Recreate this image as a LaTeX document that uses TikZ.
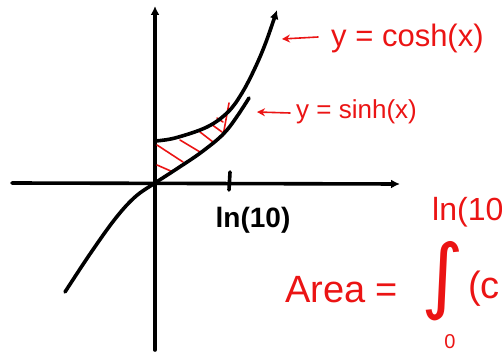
\documentclass[tikz,border=0pt]{standalone}
\usepackage{fontspec}
\setmainfont{Liberation Sans}
\newfontfamily\symfont{DejaVu Sans}
\usetikzlibrary{arrows.meta}
\definecolor{pen}{RGB}{235,20,20}
\tikzset{
  ink/.style={line width=3.6pt, line cap=round, line join=round},
  redink/.style={draw=pen, line width=1.6pt, line cap=round},
  redtxt/.style={text=pen, inner sep=0pt, anchor=base west},
  axisarrow/.style={ink, -{Latex[length=9pt,width=9pt]}},
}
\begin{document}
\begin{tikzpicture}[x=1pt,y=-1pt]
\useasboundingbox (0,0) rectangle (502,352);
\clip (0,0) rectangle (502,352);
% axes
\coordinate (ybot) at (155,350);
\coordinate (ytop) at (155,6);
\coordinate (xleft) at (12,183);
\coordinate (xright) at (400,184);
\draw[axisarrow] (ybot) -- (ytop);
\draw[axisarrow] (xleft) -- (xright);
% tick
\coordinate (tickt) at (230,172);
\coordinate (tickb) at (229,190);
\draw[ink] (tickt) -- (tickb);
\node[inner sep=0pt, anchor=base] (lnlab) at (253,227) {\fontsize{28}{28}\selectfont\bfseries ln(10)};
% hatching
\foreach \a/\b in {{(157,145)}/{(183,162)}, {(157,165)}/{(173,172)}, {(180,140)}/{(200,152)}, {(200,132)}/{(213,142)}, {(211,124)}/{(222,132)}, {(217,118)}/{(223,122)}, {(229,103)}/{(223,136)}}
  \draw[redink] \a -- \b;
% cosh
\draw[ink, -{Latex[length=9pt,width=9pt]}] plot[smooth, tension=0.6] coordinates {(155,141) (175,138) (207,127) (228,112) (242,93) (255,68) (266,42) (277,10)};
% sinh
\draw[ink] plot[smooth, tension=0.6] coordinates {(65,292) (90,254) (115,219) (135,197) (155,183) (175,170) (203,151) (227,130) (249,98)};
% labels
\node[redtxt] (coshlab) at (331,47) {\fontsize{31}{31}\selectfont y = cosh(x)};
\coordinate (ca) at (318,37);
\coordinate (coshpt) at (282,39);
\draw[redink, -{Stealth[length=8pt,width=8pt]}] (ca) -- (coshpt);
\node[redtxt] (sinhlab) at (296,119) {\fontsize{26}{26}\selectfont y = sinh(x)};
\coordinate (sa) at (290,113);
\coordinate (sinhpt) at (257,112);
\draw[redink, -{Stealth[length=8pt,width=8pt]}] (sa) -- (sinhpt);
% area formula
\node[redtxt] (uplim) at (432,221) {\fontsize{32}{32}\selectfont ln(10)};
\node[redtxt] (area) at (285,302) {\fontsize{38}{38}\selectfont Area =};
\node[text=pen, inner sep=0pt] (intg) at (443,281) {\symfont\fontsize{82}{82}\selectfont ∫};
\node[redtxt] (paren) at (468,298) {\fontsize{38}{38}\selectfont (c};
\node[text=pen, inner sep=0pt] (lowlim) at (450,342) {\fontsize{20}{20}\selectfont 0};
\end{tikzpicture}
\end{document}
